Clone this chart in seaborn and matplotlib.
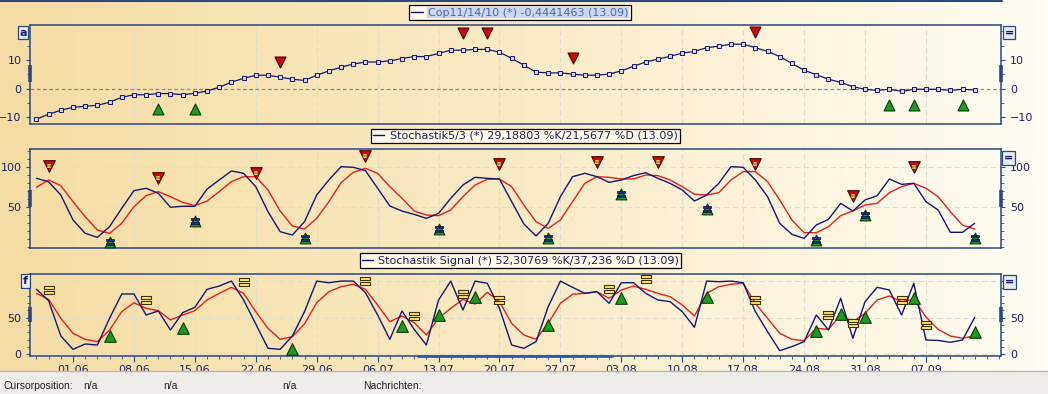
import numpy as np
import pandas as pd
import matplotlib
matplotlib.use("Agg")
import matplotlib.pyplot as plt
import seaborn as sns
from matplotlib.path import Path
from matplotlib.lines import Line2D
from matplotlib.patches import Rectangle
from matplotlib.ticker import FixedLocator, MultipleLocator, FixedFormatter, NullFormatter
from matplotlib.colors import LinearSegmentedColormap

# ---------------- data ----------------
dates = pd.bdate_range("2009-05-27", "2009-09-11")
week_labels = ["01.06", "08.06", "15.06", "22.06", "29.06", "06.07", "13.07", "20.07",
               "27.07", "03.08", "10.08", "17.08", "24.08", "31.08", "07.09"]

cop = [-10.6, -8.9, -7.5, -6.5, -6.1, -5.8, -4.7, -3.0, -2.1, -2.1, -1.7, -1.7, -2.1, -1.6,
       -0.8, 0.5, 2.3, 3.6, 4.7, 4.7, 4.0, 3.3, 2.9, 4.7, 6.2, 7.5, 8.6, 9.3, 9.3, 9.7,
       10.5, 11.2, 11.2, 12.3, 13.4, 13.4, 13.7, 13.7, 12.7, 10.6, 8.2, 5.8, 5.5, 5.5, 5.1,
       4.7, 4.7, 5.1, 6.2, 7.8, 9.3, 10.3, 11.3, 12.4, 13.0, 14.3, 14.8, 15.5, 15.5, 14.3,
       13.0, 11.2, 8.8, 6.4, 4.9, 3.3, 2.2, 0.7, -0.2, -0.6, -0.2, -0.9, -0.2, -0.2, -0.2,
       -0.6, -0.2, -0.44]

stoch_k = [85.5, 81, 64.6, 33.4, 16.7, 11.7, 25, 48, 70, 73, 66.7, 49.3, 50.5, 50.5, 72,
           83.4, 94.6, 91.7, 75, 43.8, 18.8, 14.6, 31.3, 64.6, 83.4, 100, 99.2, 95, 73, 50.9,
           44.6, 40.4, 35.4, 41.7, 60.5, 77.1, 86.7, 85.4, 84.6, 56.3, 28.4, 13.4, 29.2, 62.5,
           87.5, 91.7, 87.5, 80.4, 83.4, 88.8, 92.5, 85.4, 79.2, 70.9, 57.1, 64.6, 79.2, 100,
           99.2, 83.4, 62.5, 29.2, 15.5, 10.5, 27.1, 34.2, 54.2, 44.6, 58.4, 63.8, 84.6, 77.9,
           79.2, 56.3, 45.9, 18, 18, 29.2]
stoch_d = [74.2, 83.4, 76.3, 56.3, 37.5, 20.9, 16.7, 29.2, 50, 63.8, 68.8, 62.5, 55.4, 51.3,
           57.1, 68.8, 81.3, 87.5, 87.5, 70.9, 44.6, 25.9, 22.1, 35.4, 56.3, 80, 93, 97.9,
           91.7, 75, 60.5, 44.6, 39.6, 38.8, 45.9, 62.5, 77.1, 84.2, 84.6, 75, 52.1, 31.3,
           22.9, 33.4, 56.3, 79.2, 87.5, 86.7, 84.6, 84.6, 89.6, 88.8, 83.4, 75, 65.6, 64.6,
           67.5, 83.4, 93.8, 93.8, 81.3, 58.4, 33.4, 17.5, 17.5, 25, 38.8, 44.6, 52.1, 54.2,
           67.5, 75, 79.2, 73, 62.5, 43.8, 27.1, 22.1]

signal_k = [88.8, 73.2, 25, 6.8, 14.1, 12.7, 49.2, 82.4, 82.4, 53.7, 59.2, 33.2, 56.9, 64.2,
            88.8, 93.3, 100, 74.2, 41.4, 8.2, 6.8, 25, 58.3, 100, 97.8, 100, 100, 84.2, 53.7,
            20.5, 59.2, 34.1, 12.7, 74.2, 100, 60.5, 100, 97, 62.8, 12.7, 8.2, 17.3, 65.1, 100,
            91.5, 83.3, 85.5, 69.6, 97.8, 97.8, 83.3, 74.2, 71.9, 58.3, 36.9, 100, 99.2, 100,
            97.8, 58.3, 30.9, 5, 10.5, 17.3, 53.7, 33.2, 76.5, 21.8, 71.9, 91.5, 87.8, 53.7,
            97, 19.5, 19, 16.4, 19.5, 50.5]
signal_d = [83.3, 75.1, 49.2, 28.7, 20.5, 17.3, 33.2, 58.3, 70.5, 62.8, 59.6, 46.9, 53.7, 59.6,
            74.2, 83.3, 91.5, 83.3, 58.3, 35.5, 20.5, 24.1, 41.4, 70.5, 85.5, 92.4, 95.6, 88.8,
            67.4, 44.6, 52.3, 43.2, 26.4, 49.2, 62.8, 75.1, 68.7, 84.7, 71.9, 42.3, 26.4, 20.5,
            42.3, 69.6, 82, 83.3, 85.5, 76.5, 87.8, 93.3, 88.8, 83.3, 78.7, 67.4, 52.3, 83.3,
            92.4, 95.6, 97, 69.6, 49.2, 28.7, 20.5, 18.6, 35.5, 34.1, 53.7, 44.6, 55.9, 74.2,
            79.6, 71.9, 75.1, 51, 34.1, 25, 21.9, 25.4]

# signal markers (trading-day index, y value)
p1_sell_idx = [20, 35, 37, 44, 59]
p1_sell_y = [9.3, 19.4, 19.4, 10.7, 19.8]
p1_buy_idx = [10, 13, 70, 72, 76]
p1_buy_y = [-7.0, -7.0, -5.7, -5.7, -5.7]

p2_sell_idx = [1, 10, 18, 27, 38, 46, 51, 59, 67, 72]
p2_sell_y = [101, 85.5, 92.5, 113.7, 103, 106, 106, 103, 63.8, 99]
p2_buy_idx = [6, 13, 22, 33, 42, 48, 55, 64, 68, 77]
p2_buy_y = [5.5, 32.5, 11.3, 21.7, 10.4, 65.9, 47, 8.4, 39.6, 10.4]

p3_buy_idx = [6, 12, 21, 30, 33, 36, 42, 48, 55, 64, 66, 68, 72, 77]
p3_buy_y = [25, 35.5, 7.2, 38.7, 53.7, 78.7, 40, 77.3, 78.7, 32.3, 55, 51.4, 76.5, 30.9]
p3_hold_idx = [1, 9, 17, 27, 31, 35, 38, 47, 50, 59, 65, 67, 71, 73]
p3_hold_y = [87.8, 74.2, 99.2, 100.5, 52.7, 82, 74.2, 89.2, 102.4, 74.2, 53.7, 42.3, 74.2, 40]

legend1 = "Cop11/14/10 (*) -0,4441463 (13.09)"
legend2 = "Stochastik5/3 (*) 29,18803 %K/21,5677 %D (13.09)"
legend3 = "Stochastik Signal (*) 52,30769 %K/37,236 %D (13.09)"

# ---------------- style ----------------
sns.set_style("white")
plt.rcParams["font.family"] = ["DejaVu Sans"]
NAVY = "#16166E"
RED = "#E0221C"
SPINE = "#2A4880"
TXT = "#1A2060"
GREEN = "#1E9A1E"
DRED = "#CC0A0A"
YEL = "#FFE860"

x = np.arange(len(dates))
date_str = [d.strftime("%d.%m") for d in dates]
tick_pos = [date_str.index(l) for l in week_labels]

W, H = 1048, 394
fig = plt.figure(figsize=(W / 100, H / 100), dpi=100)


def fax(l, t, r, b):
    return [l / W, 1 - b / H, (r - l) / W, (b - t) / H]


# gradient background
bg = fig.add_axes([0, 23 / H, 1, 1 - 23 / H])
cmap = LinearSegmentedColormap.from_list("bg", ["#F5DCA4", "#FAEBC6", "#FFFDF4"])
bg.imshow(np.linspace(0, 1, 256)[None, :], aspect="auto", cmap=cmap, extent=[0, 1, 0, 1])
bg.axis("off")

# status bar
fig.add_artist(Rectangle((0, 0), 1, 23 / H, transform=fig.transFigure, fc="#EEEDEA", ec="none"))
fig.add_artist(Line2D([0, 1], [23 / H, 23 / H], transform=fig.transFigure, color="#B8B8B8", lw=1))
fig.add_artist(Line2D([0, 1001.5 / W], [1 - 0.8 / H] * 2, transform=fig.transFigure, color=SPINE, lw=1.5))
for xx, s in [(3, "Cursorposition:"), (83, "n/a"), (163, "n/a"), (282, "n/a"), (363, "Nachrichten:")]:
    fig.text(xx / W, 1 - 386 / H, s, fontsize=7.5, family="Liberation Sans", color="#202020",
             va="center", ha="left")

ax1 = fig.add_axes(fax(30, 25, 1001.5, 124))
ax2 = fig.add_axes(fax(30, 149.3, 1001.5, 248))
ax3 = fig.add_axes(fax(30, 274, 1001.5, 356))

eq_path = Path([(-1, 0.15), (1, 0.15), (1, 0.85), (-1, 0.85), (-1, 0.15),
                (-1, -0.85), (1, -0.85), (1, -0.15), (-1, -0.15), (-1, -0.85)],
               [Path.MOVETO, Path.LINETO, Path.LINETO, Path.LINETO, Path.CLOSEPOLY] * 2)

# panel 1
sns.lineplot(x=x, y=cop, ax=ax1, color=NAVY, lw=0.9, marker="s", markersize=2.6,
             markerfacecolor="#D4D4EE", markeredgecolor=NAVY, markeredgewidth=0.7)
ax1.axhline(0, color="#8C8C8C", lw=0.9, ls=(0, (3, 2)), zorder=1)
sns.scatterplot(x=p1_sell_idx, y=p1_sell_y, ax=ax1, marker="v", s=62, color=DRED,
                edgecolor="#500000", linewidth=0.8, zorder=5, legend=False)
sns.scatterplot(x=p1_buy_idx, y=p1_buy_y, ax=ax1, marker="^", s=62, color=GREEN,
                edgecolor="#0A3A0A", linewidth=0.8, zorder=5, legend=False)
ax1.set_ylim(-12.3, 22.2)
ax1.yaxis.set_major_locator(FixedLocator([-10, 0, 10]))
ax1.yaxis.set_minor_locator(MultipleLocator(5))

# panel 2
sns.lineplot(x=x, y=stoch_d, ax=ax2, color=RED, lw=1)
sns.lineplot(x=x, y=stoch_k, ax=ax2, color=NAVY, lw=1)
sns.scatterplot(x=p2_sell_idx, y=p2_sell_y, ax=ax2, marker="v", s=70, color=DRED,
                edgecolor="#500000", linewidth=0.8, zorder=5, legend=False)
sns.scatterplot(x=p2_sell_idx, y=p2_sell_y, ax=ax2, marker=eq_path, s=12, color=YEL,
                edgecolor="#604000", linewidth=0.3, zorder=6, legend=False)
sns.scatterplot(x=p2_buy_idx, y=p2_buy_y, ax=ax2, marker="^", s=60, color=GREEN,
                edgecolor="#0A3A0A", linewidth=0.8, zorder=5, legend=False)
sns.scatterplot(x=p2_buy_idx, y=p2_buy_y, ax=ax2, marker=eq_path, s=28, color="#1A2A8A",
                edgecolor="#0A1040", linewidth=0.5, zorder=6, legend=False)
ax2.set_ylim(-1.6, 121.7)
ax2.yaxis.set_major_locator(FixedLocator([50, 100]))
ax2.yaxis.set_minor_locator(MultipleLocator(10))
ax2.grid(axis="y", which="major", color="#E0DCD0", lw=0.8, ls=(0, (5, 3)))

# panel 3
sns.lineplot(x=x, y=signal_d, ax=ax3, color=RED, lw=1)
sns.lineplot(x=x, y=signal_k, ax=ax3, color=NAVY, lw=1)
sns.scatterplot(x=p3_buy_idx, y=p3_buy_y, ax=ax3, marker="^", s=70, color=GREEN,
                edgecolor="#0A3A0A", linewidth=0.8, zorder=5, legend=False)
sns.scatterplot(x=p3_hold_idx, y=p3_hold_y, ax=ax3, marker=eq_path, s=50, color=YEL,
                edgecolor="#403000", linewidth=0.8, zorder=5, legend=False)
ax3.set_ylim(-2.3, 109.7)
ax3.yaxis.set_major_locator(FixedLocator([0, 50, 100]))
ax3.yaxis.set_major_formatter(FixedFormatter(["0", "50", ""]))
ax3.yaxis.set_minor_locator(MultipleLocator(10))
ax3.grid(axis="y", which="major", color="#E0DCD0", lw=0.8, ls=(0, (5, 3)))

thumbs = {ax1: (0.424, 0.596), ax2: (0.415, 0.588), ax3: (0.415, 0.598)}
for ax in (ax1, ax2, ax3):
    ax.set_facecolor("none")
    ax.set_xlim(-0.53, 79.2)
    ax.set_xlabel("")
    ax.set_ylabel("")
    ax.xaxis.set_major_locator(FixedLocator(tick_pos))
    ax.xaxis.set_minor_locator(MultipleLocator(1))
    ax.grid(axis="x", which="major", color="#E0DCD0", lw=0.8, ls=(0, (5, 3)))
    ax.set_axisbelow(True)
    for sp in ax.spines.values():
        sp.set_color(SPINE)
        sp.set_linewidth(1.1)
    ax.tick_params(axis="y", which="major", left=True, right=True, labelleft=True,
                   labelright=True, direction="out", length=3, width=0.8, color=SPINE,
                   labelsize=8, labelcolor=TXT, pad=3)
    ax.tick_params(axis="y", which="minor", left=True, right=True, direction="out",
                   length=2, width=0.6, color=SPINE)
    f1, f2 = thumbs[ax]
    for xf in (0, 1):
        ax.plot([xf, xf], [f1, f2], transform=ax.transAxes, color=SPINE, lw=2.6,
                clip_on=False, solid_capstyle="butt")

for ax in (ax1, ax2):
    ax.tick_params(axis="x", which="both", length=0, labelbottom=False)
ax3.xaxis.set_major_formatter(FixedFormatter(week_labels))
ax3.xaxis.set_minor_formatter(NullFormatter())
ax3.tick_params(axis="x", which="major", bottom=True, direction="out", length=4, width=0.8,
                color=SPINE, labelsize=8, labelcolor=TXT, pad=2.5)
ax3.tick_params(axis="x", which="minor", bottom=True, direction="out", length=2, width=0.6,
                color=SPINE)
ax3.plot([0.398, 0.600], [0, 0], transform=ax3.transAxes, color="#2A5AB0", lw=2,
         clip_on=False, solid_capstyle="butt", zorder=6)

# legends
for ax, lab, cx, cy, tcol, hl in [(ax1, legend1, 520, 12.5, "#4A68B0", True),
                                   (ax2, legend2, 525.5, 136, TXT, False),
                                   (ax3, legend3, 520.5, 260.5, TXT, False)]:
    h = Line2D([], [], color=NAVY, lw=1)
    leg = ax.legend(handles=[h], labels=[lab], loc="center",
                    bbox_to_anchor=(cx / W, 1 - cy / H), bbox_transform=fig.transFigure,
                    frameon=True, fancybox=False, edgecolor="black", facecolor="#FFF9E6",
                    framealpha=1, fontsize=8, handlelength=1.0, handletextpad=0.5,
                    borderpad=0.2, borderaxespad=0)
    leg.get_frame().set_linewidth(0.9)
    t = leg.get_texts()[0]
    t.set_color(tcol)
    if hl:
        t.set_bbox(dict(fc="#CCD8F0", ec="none", pad=0.5))

# panel boxes
for xx, yy, s in [(23, 32.5, "a"), (25.5, 281, "f"),
                  (1009, 32.5, "="), (1008.5, 158, "="), (1009.5, 282, "=")]:
    fig.text(xx / W, 1 - yy / H, s, fontsize=8, fontweight="bold", color=NAVY,
             ha="center", va="center",
             bbox=dict(boxstyle="square,pad=0.15", fc="#E6ECF6", ec=SPINE, lw=0.9))

fig.savefig("out.png", dpi=100)
